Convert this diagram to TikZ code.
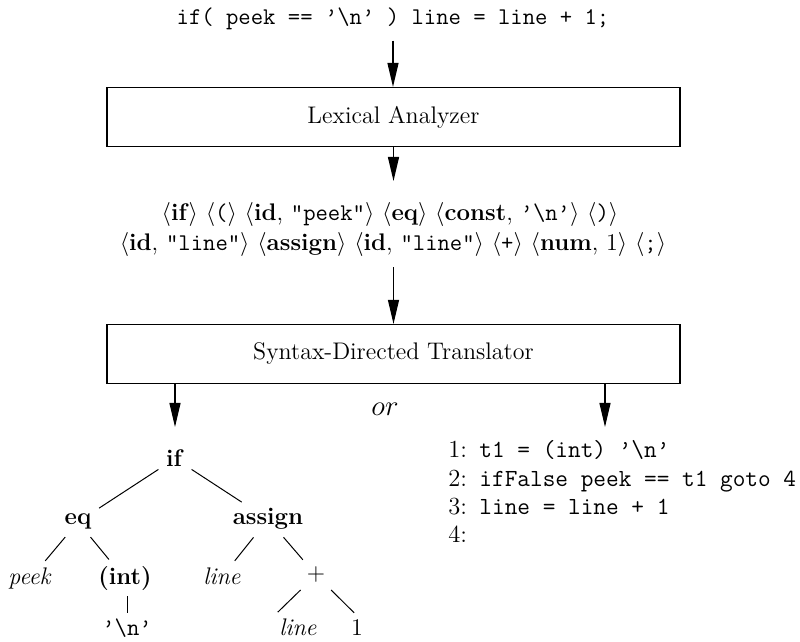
\documentclass[tikz,border=0pt]{standalone}
\usetikzlibrary{arrows.meta}
\newcommand{\bsl}{\char92}
\newcommand{\tokl}{$\langle$}
\newcommand{\tokr}{$\rangle$}
\begin{document}
\begin{tikzpicture}[x=0.5pt,y=-0.5pt,
  every node/.style={font=\fontsize{12}{15}\selectfont},
  box/.style={draw,line width=0.6pt,minimum width=286.5pt,minimum height=29.5pt,inner sep=0pt},
  arr/.style={line width=0.6pt,-{Triangle[length=12pt,width=5.5pt]}},
  edge/.style={line width=0.5pt,shorten <=2pt,shorten >=2pt},
  lbl/.style={anchor=base,inner sep=2pt},
  codeline/.style={anchor=base west,inner sep=0pt,font=\fontsize{12.3}{15}\selectfont}]
\useasboundingbox (0,0) rectangle (800,642);

% pipeline
\node[anchor=base,inner sep=2pt] (src) at (393,25) {\ttfamily if( peek == ’\bsl n’ ) line = line + 1;};
\node[box] (lex) at (393.5,117) {Lexical Analyzer};
\node[anchor=base,inner sep=2pt] (tok1) at (390,221)
  {\tokl\textbf{if}\tokr{} \tokl\texttt{(}\tokr{} \tokl\textbf{id}, \texttt{"peek"}\tokr{} \tokl\textbf{eq}\tokr{} \tokl\textbf{const}, \texttt{’\bsl n’}\tokr{} \tokl\texttt{)}\tokr};
\node[anchor=base,inner sep=2pt] (tok2) at (393,251)
  {\tokl\textbf{id}, \texttt{"line"}\tokr{} \tokl\textbf{assign}\tokr{} \tokl\textbf{id}, \texttt{"line"}\tokr{} \tokl\texttt{+}\tokr{} \tokl\textbf{num}, 1\tokr{} \tokl\texttt{;}\tokr};
\node[box] (syn) at (393.5,354) {Syntax-Directed Translator};
\node[font=\fontsize{14}{16}\selectfont] (orl) at (385,409) {$or$};

\draw[arr,shorten <=3pt] (src.south) -- (src.south |- lex.north);
\draw[arr] (lex.south) -- (lex.south |- 0,181) coordinate (t1tip);
\draw[arr,shorten <=3pt] (tok2.south -| syn.north) -- (syn.north);

\coordinate (ltip) at (175,427);
\coordinate (rtip) at (605,427);
\draw[arr] (syn.south -| ltip) -- (ltip);
\draw[arr] (syn.south -| rtip) -- (rtip);

% syntax tree
\node[lbl] (ifn) at (175,467) {\textbf{if}};
\node[lbl] (eq) at (78,525) {\textbf{eq}};
\node[lbl] (asg) at (268,525) {\textbf{assign}};
\node[lbl] (peek) at (30,585) {\textit{peek}};
\node[lbl] (int) at (125,585) {\textbf{(int)}};
\node[lbl] (line1) at (222,585) {\textit{line}};
\node[lbl] (plus) at (316,581) {$+$};
\node[lbl] (nl) at (127,636) {\texttt{’\bsl n’}};
\node[lbl] (line2) at (298,636) {\textit{line}};
\node[lbl] (one) at (357,636) {1};

\draw[edge] (ifn) -- (eq);
\draw[edge] (ifn) -- (asg);
\draw[edge] (eq) -- (peek);
\draw[edge] (eq) -- (int);
\draw[line width=0.5pt,shorten <=0.5pt,shorten >=1pt] (int.south -| nl) -- (nl.north);
\draw[edge] (asg) -- (line1);
\draw[edge] (asg) -- (plus);
\draw[edge] (plus) -- (line2.north west);
\draw[edge] (plus) -- (one.north);

% three-address code
\node[codeline] (c1) at (448,458) {1:\enspace\texttt{t1 = (int) ’\bsl n’}};
\node[codeline] (c2) at (448,487) {2:\enspace\texttt{ifFalse peek == t1 goto 4}};
\node[codeline] (c3) at (448,515) {3:\enspace\texttt{line = line + 1}};
\node[codeline] (c4) at (448,543) {4:};
\end{tikzpicture}
\end{document}
